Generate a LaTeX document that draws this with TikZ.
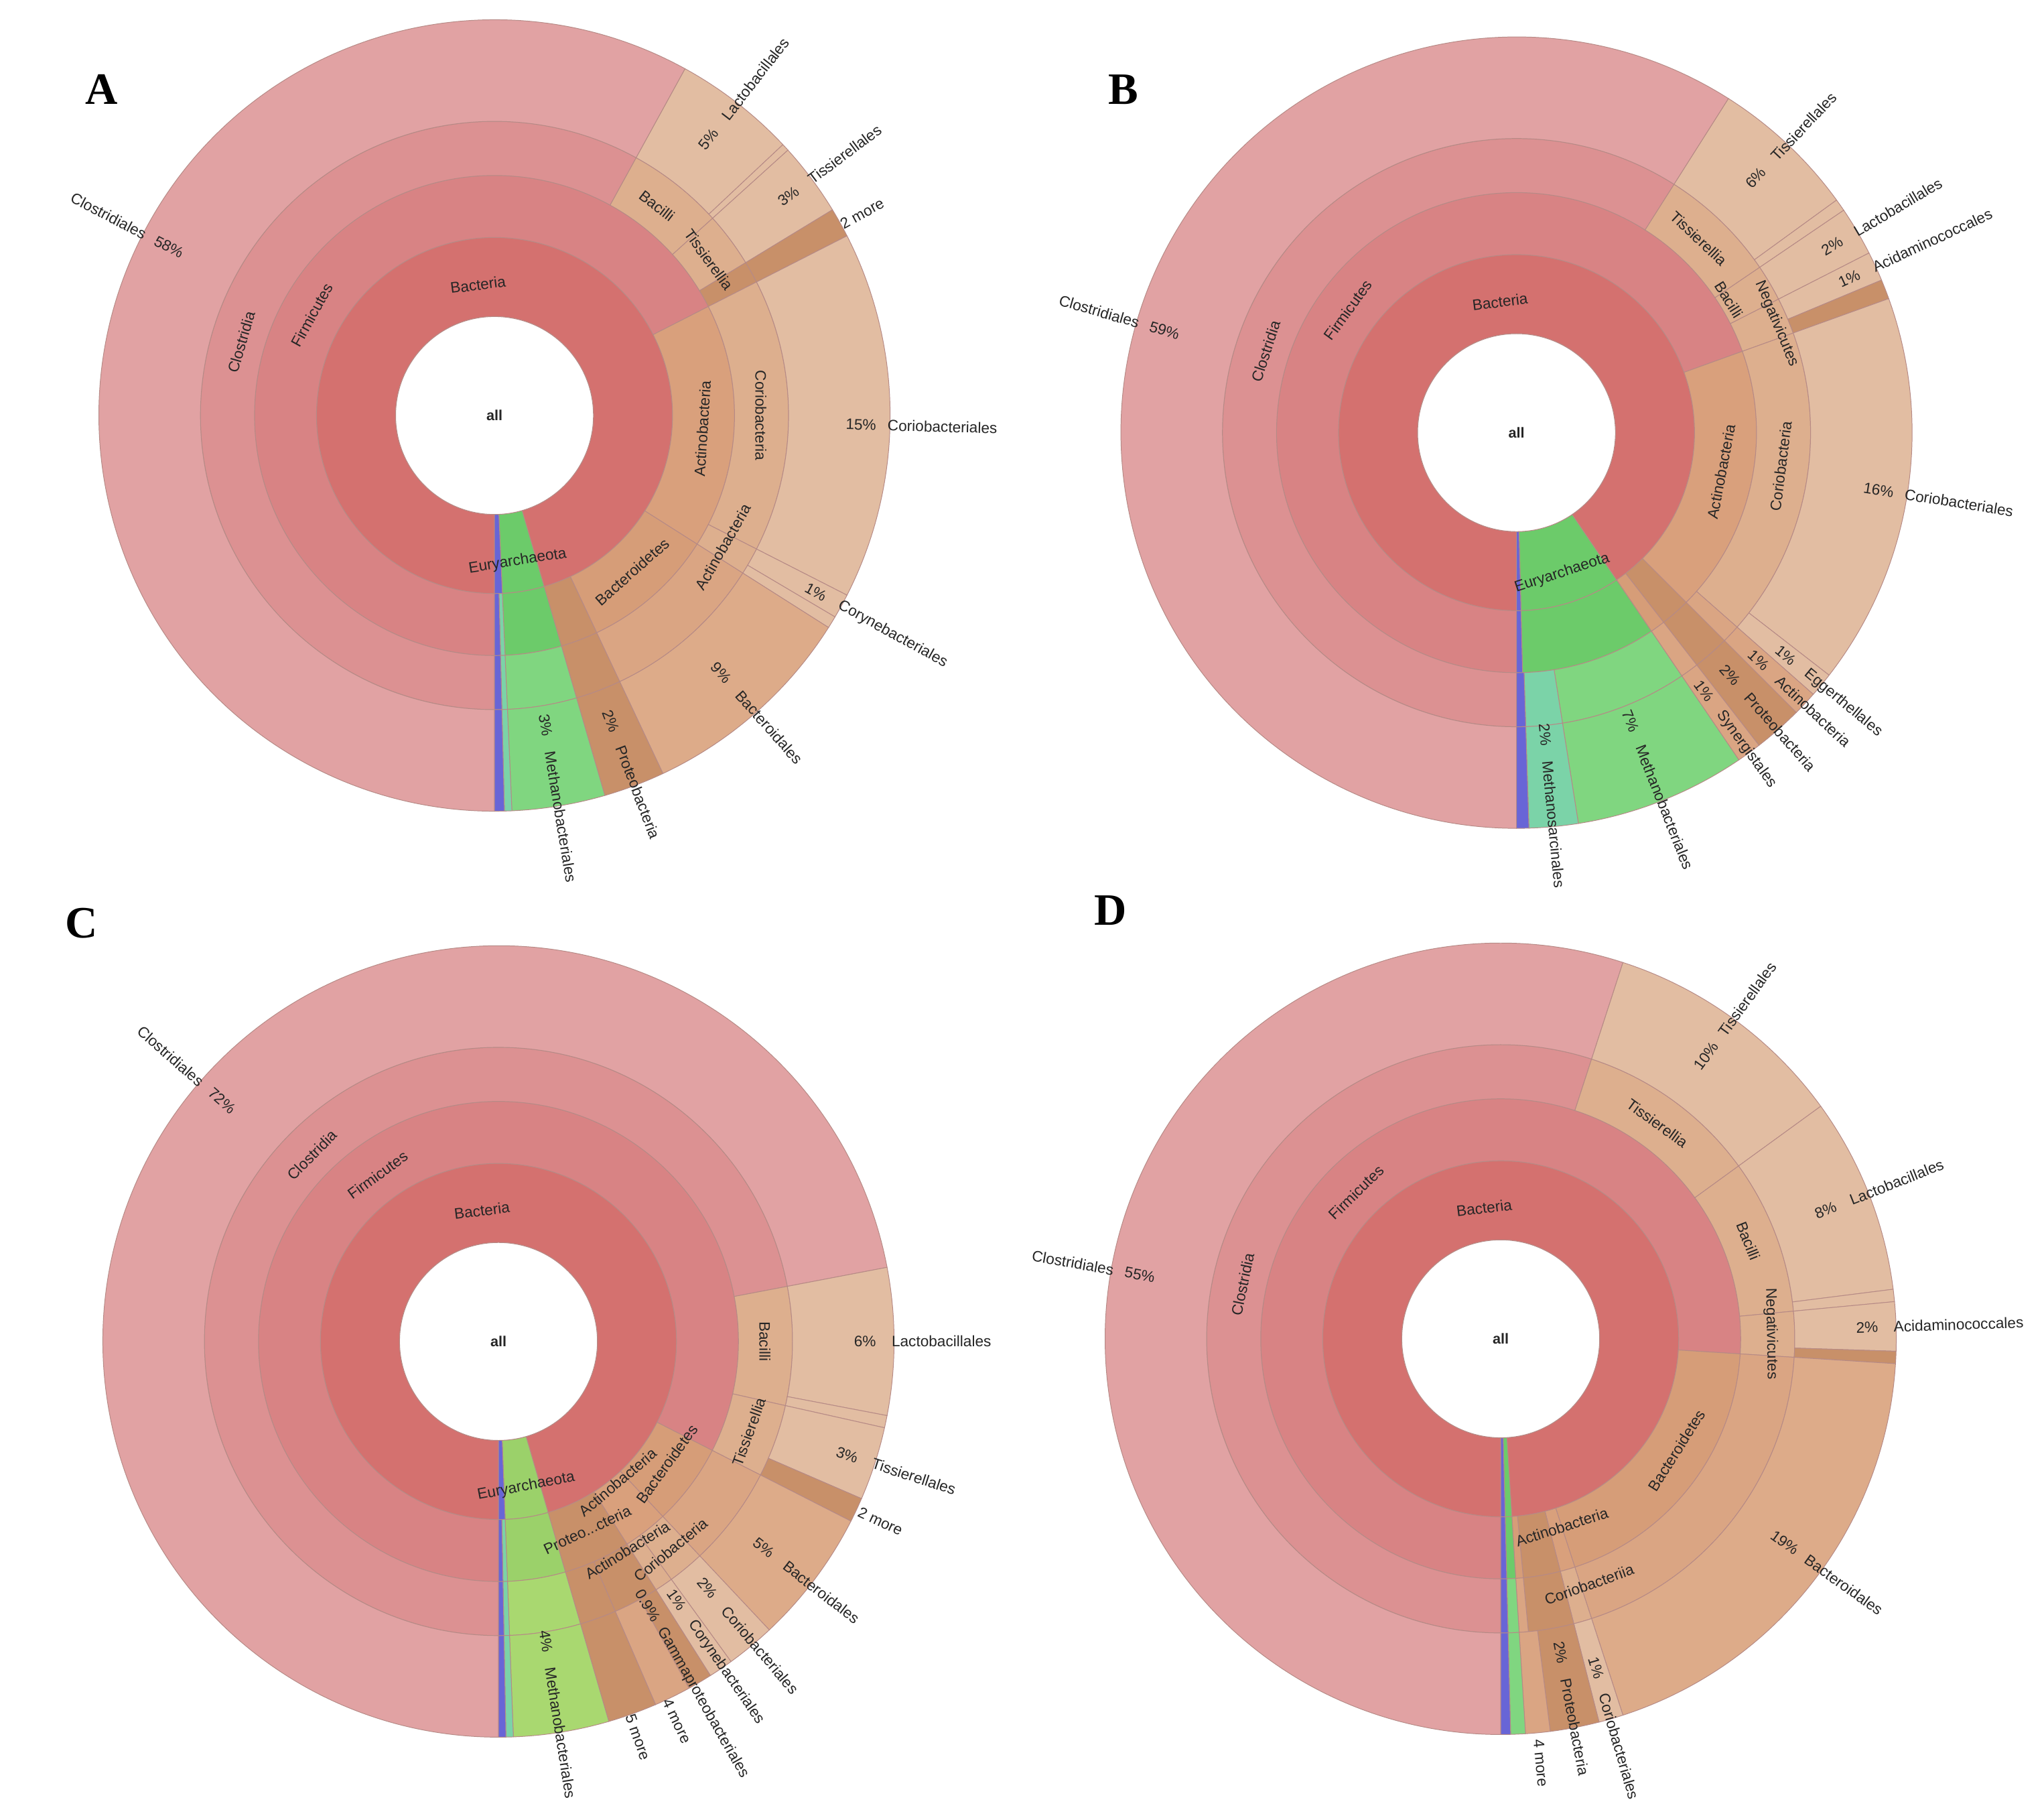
\documentclass[tikz,border=0pt]{standalone}
\usepackage{fontspec}
\setmainfont{Liberation Sans}
\newfontfamily\serif{Liberation Serif}
\definecolor{d1}{HTML}{D4716F}
\definecolor{p1}{HTML}{D88384}
\definecolor{c1}{HTML}{DC9192}
\definecolor{o1}{HTML}{E1A2A3}
\definecolor{ta1}{HTML}{D9A07C}
\definecolor{ta2}{HTML}{DDAF8E}
\definecolor{ta3}{HTML}{E2BDA2}
\definecolor{tb1}{HTML}{D69D78}
\definecolor{tb2}{HTML}{DAA583}
\definecolor{tb3}{HTML}{DDAB89}
\definecolor{dk}{HTML}{C89069}
\definecolor{gr}{HTML}{6CCB6A}
\definecolor{gr2}{HTML}{80D680}
\definecolor{yg}{HTML}{9BD16A}
\definecolor{yg2}{HTML}{A9D870}
\definecolor{te}{HTML}{7BD3A8}
\definecolor{bl}{HTML}{6865D6}
\definecolor{edge}{HTML}{B68A86}
\tikzset{lab/.style={font=\fontsize{11.5}{13}\selectfont,inner sep=0pt,text=black!85},
letter/.style={font=\serif\bfseries\fontsize{34}{36}\selectfont}}
\newcommand\kseg[5]{\filldraw[fill=#5,draw=edge,line width=0.5pt] ({90+3.6*#1}:#3) arc[start angle={90+3.6*#1}, end angle={90+3.6*#2}, radius=#3] -- ({90+3.6*#2}:#4) arc[start angle={90+3.6*#2}, end angle={90+3.6*#1}, radius=#4] -- cycle;}
\newcommand\ring[3]{\foreach \a/\b/\c in {#3}{\kseg{\a}{\b}{#1}{#2}{\c}}}
\newcommand\rl[4][298]{%
\pgfmathsetmacro\kth{90+3.6*#2}%
\pgfmathsetmacro\kph{mod(720-\kth,360)}%
\pgfmathtruncatemacro\ks{cos(\kph)>=0}%
\pgfmathsetmacro\kr{#1-20}%
\ifnum\ks=1
 \node[lab,anchor=west,rotate=\kph] at (\kth:#1) {#4};
 \node[lab,rotate=\kph] at (\kth:\kr) {#3};
\else
 \node[lab,anchor=east,rotate=\kph+180] at (\kth:#1) {#4};
 \node[lab,rotate=\kph+180] at (\kth:\kr) {#3};
\fi}
\newcommand\tl[3]{%
\pgfmathsetmacro\kth{90+3.6*#1}%
\pgfmathsetmacro\kph{mod(720-\kth,360)}%
\pgfmathtruncatemacro\ks{sin(\kph)<0}%
\ifnum\ks=1 \node[lab,rotate=\kph+90] at (\kth:#2){#3};\else\node[lab,rotate=\kph-90] at (\kth:#2){#3};\fi}
\newcommand\hole{\filldraw[fill=white,draw=edge,line width=0.5pt] (0,0) circle[radius=75]; \node[lab,font=\fontsize{11}{12}\selectfont\bfseries] (all) at (0,0) {all};}
\begin{document}
\begin{tikzpicture}[x=1pt,y=-1pt]
\fill[white] (0,0) rectangle (1550,1378);
\useasboundingbox (0,0) rectangle (1550,1378);
\node[letter] (A) at (77,68) {A};
\node[letter] (B) at (852,68) {B};
\node[letter] (C) at (62,700) {C};
\node[letter] (D) at (842,690) {D};
% ---------------- A
\begin{scope}[shift={(375,315)}]
\ring{75}{135}{0/95.5/d1,95.5/99.3/gr,99.3/100/bl}
\ring{135}{182}{0/67.5/p1,67.5/84/ta1,84/93/tb1,93/95.5/dk,95.5/99.3/gr,99.3/99.6/te,99.6/100/bl}
\ring{182}{223}{0/58/c1,58/63.3/ta2,63.3/66.3/ta2,66.3/67.5/dk,67.5/82.5/ta2,82.5/84/ta2,84/93/tb2,93/95.5/dk,95.5/99.3/gr2,99.3/99.6/te,99.6/100/bl}
\ring{223}{300}{0/58/o1,58/63/ta3,63/63.3/ta3,63.3/66.3/ta3,66.3/67.5/dk,67.5/82.5/ta3,82.5/83.5/ta3,83.5/84/ta3,84/93/tb3,93/95.5/dk,95.5/99.3/gr2,99.3/99.6/te,99.6/100/bl}
\hole
\tl{48}{100}{Bacteria}\tl{33}{158}{Firmicutes}\tl{29.5}{200}{Clostridia}
\tl{60.5}{201}{Bacilli}\tl{65}{201}{Tissierellia}\tl{75}{202}{Coriobacteria}\tl{83.3}{200}{Actinobacteria}
\tl{76}{158}{Actinobacteria}\tl{88.5}{158}{Bacteroidetes}\tl{97.5}{112}{Euryarchaeota}
\rl{32.6}{58\%}{Clostridiales}\rl[285]{60.5}{5\%}{Lactobacillales}\rl{64.8}{3\%}{Tissierellales}\rl[300]{67}{}{2 more}
\rl{75.4}{15\%}{Coriobacteriales}\rl{83}{1\%}{Corynebacteriales}\rl[280]{88.5}{9\%}{Bacteroidales}\rl[268]{94.2}{2\%}{Proteobacteria}\rl[258]{97.4}{3\%}{Methanobacteriales}
\end{scope}
% ---------------- B
\begin{scope}[shift={(1150,328)}]
\ring{75}{135}{0/90.5/d1,90.5/99.6/gr,99.6/100/bl}
\ring{135}{182}{0/69.5/p1,69.5/87.5/ta1,87.5/89.5/dk,89.5/90.5/tb1,90.5/99.6/gr,99.6/100/bl}
\ring{182}{223}{0/59/c1,59/65.5/ta2,65.5/67.5/ta2,67.5/69.5/ta2,69.5/86.5/ta2,86.5/87.5/tb2,87.5/89.5/dk,89.5/90.5/tb2,90.5/97.5/gr2,97.5/99.5/te,99.5/100/bl}
\ring{223}{300}{0/59/o1,59/65/ta3,65/65.5/ta3,65.5/67.5/ta3,67.5/68.7/ta3,68.7/69.5/dk,69.5/85.5/ta3,85.5/86.5/ta3,86.5/87.5/tb2,87.5/89.5/dk,89.5/90.5/tb2,90.5/97.5/gr2,97.5/99.5/te,99.5/100/bl}
\hole
\tl{48}{100}{Bacteria}\tl{35}{158}{Firmicutes}\tl{30}{200}{Clostridia}
\tl{62}{202}{Tissierellia}\tl{66.1}{190}{Bacilli}\tl{68.7}{214}{Negativicutes}\tl{77}{202}{Coriobacteria}
\tl{78}{158}{Actinobacteria}\tl{95}{112}{Euryarchaeota}
\rl{29.5}{59\%}{Clostridiales}\rl[285]{62}{6\%}{Tissierellales}\rl{66.5}{2\%}{Lactobacillales}\rl{68.1}{1\%}{Acidaminococcales}
\rl{77.5}{16\%}{Coriobacteriales}\rl[285]{86}{1\%}{Eggerthellales}\rl[272]{87}{1\%}{Actinobacteria}\rl[265]{88.5}{2\%}{Proteobacteria}\rl[262]{90}{1\%}{Synergistales}
\rl[255]{94}{7\%}{Methanobacteriales}\rl[250]{98.5}{2\%}{Methanosarcinales}
\end{scope}
% ---------------- C
\begin{scope}[shift={(378,1017)}]
\ring{75}{135}{0/95.5/d1,95.5/99.4/yg,99.4/100/bl}
\ring{135}{182}{0/82.5/p1,82.5/88/tb1,88/91/ta1,91/95.5/dk,95.5/99.4/yg,99.4/99.7/te,99.7/100/bl}
\ring{182}{223}{0/72/c1,72/78.5/ta2,78.5/82.5/ta2,82.5/88/tb2,88/90/ta2,90/91/ta2,91/93.5/dk,93.5/95.5/dk,95.5/99.4/yg2,99.4/99.7/te,99.7/100/bl}
\ring{223}{300}{0/72/o1,72/78/ta3,78/78.5/ta3,78.5/81.5/ta3,81.5/82.5/dk,82.5/88/tb3,88/90/ta3,90/91/ta3,91/92/dk,92/93.5/tb2,93.5/95.5/dk,95.5/99.4/yg2,99.4/99.7/te,99.7/100/bl}
\hole
\tl{48}{100}{Bacteria}\tl{40}{156}{Firmicutes}\tl{37.5}{200}{Clostridia}
\tl{75}{202}{Bacilli}\tl{80.5}{202}{Tissierellia}\tl{89}{205}{Coriobacteria}\tl{91.2}{186}{Actinobacteria}
\tl{85}{158}{Bacteroidetes}\tl{88.8}{140}{Actinobacteria}\tl{93}{158}{Proteo...cteria}\tl{97}{112}{Euryarchaeota}
\rl{36.4}{72\%}{Clostridiales}\rl{75}{6\%}{Lactobacillales}\rl{80}{3\%}{Tissierellales}\rl[302]{82}{}{2 more}
\rl[275]{85.5}{5\%}{Bacteroidales}\rl[265]{88.8}{2\%}{Coriobacteriales}\rl[258]{90.4}{1\%}{Corynebacteriales}\rl[250]{91.8}{0.9\%}{Gammaproteobacteriales}
\rl[300]{93}{}{4 more}\rl[300]{94.6}{}{5 more}\rl[250]{97.5}{4\%}{Methanobacteriales}
\end{scope}
% ---------------- D
\begin{scope}[shift={(1138,1015)}]
\ring{75}{135}{0/99/d1,99/99.6/gr,99.6/100/bl}
\ring{135}{182}{0/76/p1,76/95/tb1,95/96/ta1,96/98.5/dk,98.5/99/tb1,99/99.6/gr,99.6/100/bl}
\ring{182}{223}{0/55/c1,55/65/ta2,65/73.5/ta2,73.5/76/ta2,76/95/tb2,95/96/ta2,96/98.5/dk,98.5/99/tb2,99/99.6/gr2,99.6/100/bl}
\ring{223}{300}{0/55/o1,55/65/ta3,65/73/ta3,73/73.5/ta3,73.5/75.5/ta3,75.5/76/dk,76/95/tb3,95/96/ta3,96/98/dk,98/99/tb2,99/99.6/gr2,99.6/100/bl}
\hole
\tl{48}{100}{Bacteria}\tl{37.6}{156}{Firmicutes}\tl{28.3}{200}{Clostridia}
\tl{60}{202}{Tissierellia}\tl{69}{202}{Bacilli}\tl{74.7}{205}{Negativicutes}\tl{94.5}{198}{Coriobacteriia}
\tl{84}{158}{Bacteroidetes}\tl{95}{150}{Actinobacteria}
\rl{27.8}{55\%}{Clostridiales}\rl[285]{60}{10\%}{Tissierellales}\rl[285]{69}{8\%}{Lactobacillales}\rl{74.5}{2\%}{Acidaminococcales}
\rl[285]{84.9}{19\%}{Bacteroidales}\rl[280]{95.5}{1\%}{Coriobacteriales}\rl[262]{97}{2\%}{Proteobacteria}\rl[305]{98.5}{}{4 more}
\end{scope}
\end{tikzpicture}
\end{document}
